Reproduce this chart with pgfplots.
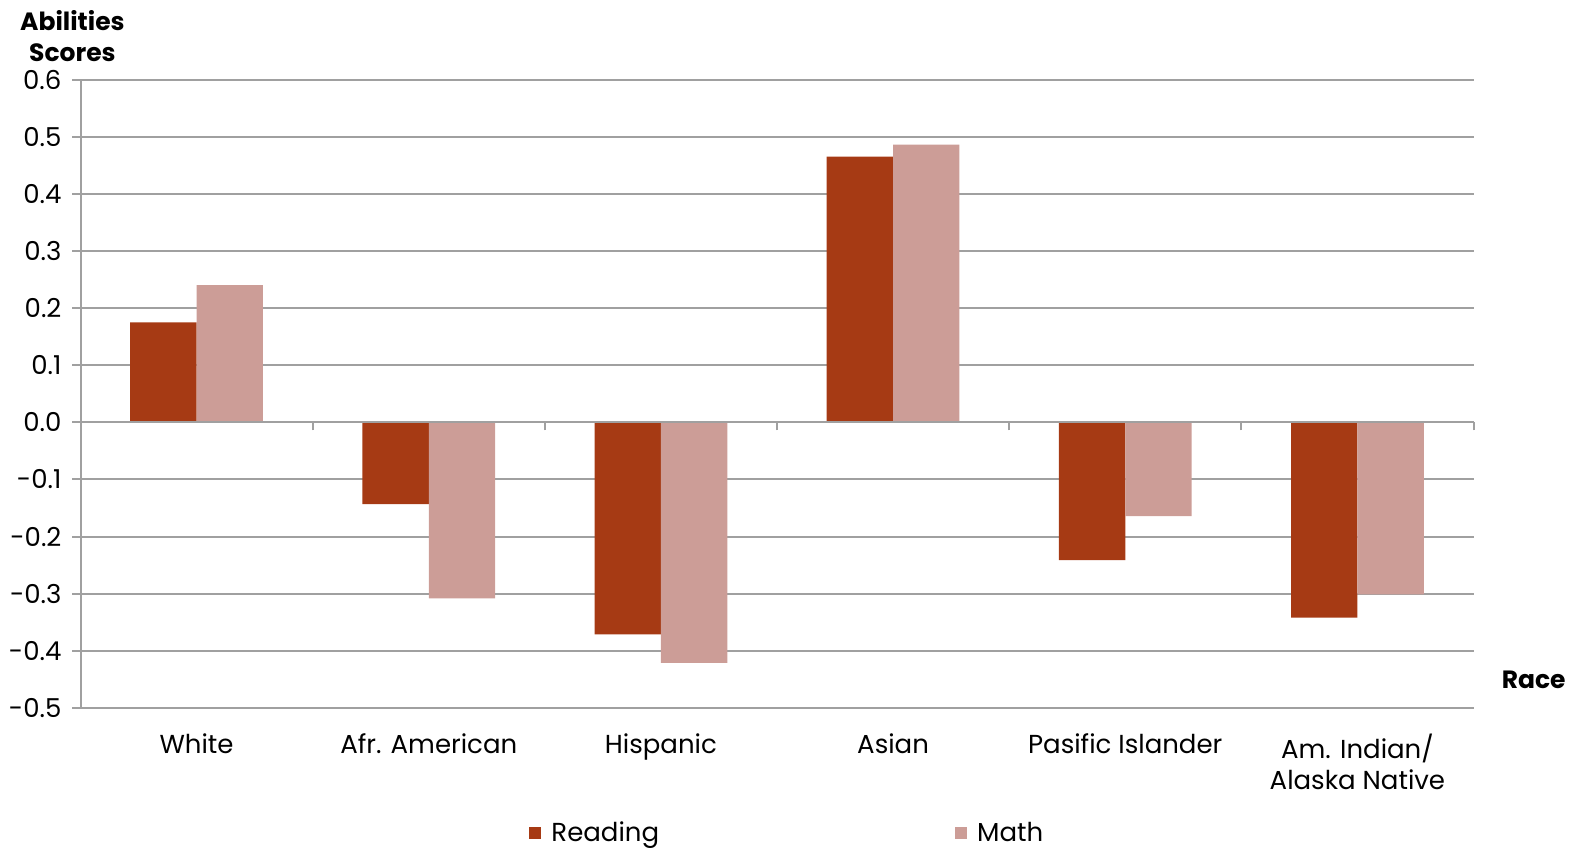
\documentclass[border=0pt]{standalone}
\usepackage{fontspec}
\setmainfont{Poppins}
\usepackage{pgfplots}
\pgfplotsset{compat=1.18}
\definecolor{readc}{RGB}{166,58,20}
\definecolor{mathc}{RGB}{204,157,151}
\definecolor{gridc}{RGB}{160,160,160}
\begin{document}
\begin{tikzpicture}
\useasboundingbox (0,0) rectangle (788.5pt,424pt);
\begin{axis}[
  at={(40.25pt,70pt)}, anchor=south west,
  scale only axis, width=696.5pt, height=314.25pt,
  xmin=-0.5, xmax=5.5, ymin=-0.5, ymax=0.6,
  clip=false,
  axis lines=left,
  axis line style={-, gridc, line width=1pt},
  ymajorgrids, major grid style={gridc, line width=1pt},
  ytick={-0.5,-0.4,-0.3,-0.2,-0.1,0,0.1,0.2,0.3,0.4,0.5,0.6},
  yticklabels={-0.5,-0.4,-0.3,-0.2,-0.1,0.0,0.1,0.2,0.3,0.4,0.5,0.6},
  ytick style={gridc, line width=1pt},
  tick align=outside, major tick length=4pt,
  xtick={0,1,2,3,4,5},
  xticklabels={White, Afr. American, Hispanic, Asian, Pasific Islander, {Am. Indian/\\Alaska Native}},
  xtick style={draw=none},
  ticklabel style={font=\fontsize{13}{15.5}\selectfont, text=black},
  xticklabel style={align=center, anchor=north, yshift=-5.5pt},
  yticklabel style={xshift=-2pt},
  legend columns=2,
  legend style={draw=none, fill=none, inner sep=0pt, at={(0.322,-0.199)}, anchor=west,
     font=\fontsize{13}{15.5}\selectfont,
     /tikz/every odd column/.append style={column sep=3pt},
     /tikz/every even column/.append style={column sep=146pt}},
  legend image code/.code={\fill[#1] (0pt,-3pt) rectangle (6pt,3pt);},
]
\addplot[ybar, bar width=0.286, bar shift=-0.143, fill=readc, draw=none]
  coordinates {(0,0.175) (1,-0.143) (2,-0.371) (3,0.465) (4,-0.241) (5,-0.342)};
\addlegendentry{Reading}
\addplot[ybar, bar width=0.286, bar shift=0.143, fill=mathc, draw=none]
  coordinates {(0,0.240) (1,-0.308) (2,-0.421) (3,0.486) (4,-0.164) (5,-0.301)};
\addlegendentry{Math}
\node[align=center, font=\bfseries\fontsize{12.5}{15.5}\selectfont] at (rel axis cs:-0.0058,1.069) {Abilities\\Scores};
\node[font=\bfseries\fontsize{12.5}{15.5}\selectfont] at (rel axis cs:1.0432,0.0446) {Race};
\end{axis}
\begin{axis}[
  at={(40.25pt,70pt)}, anchor=south west,
  scale only axis, width=696.5pt, height=314.25pt,
  xmin=-0.5, xmax=5.5, ymin=-0.5, ymax=0.6,
  axis x line=middle, axis y line=none,
  axis line style={-, gridc, line width=1pt},
  xtick={-0.5,0.5,1.5,2.5,3.5,4.5,5.5}, xticklabels={},
  xtick style={gridc, line width=1pt},
  tick align=outside, major tick length=4pt,
]
\end{axis}
\end{tikzpicture}
\end{document}
